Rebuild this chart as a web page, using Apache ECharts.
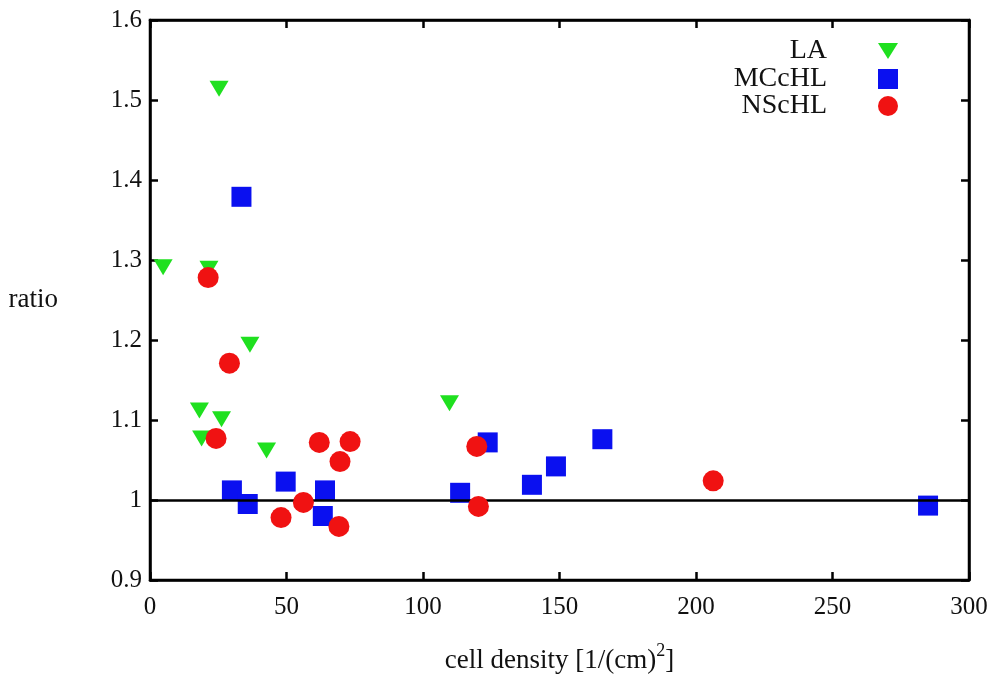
<!DOCTYPE html>
<html>
<head>
<meta charset="utf-8">
<script src="https://cdn.jsdelivr.net/npm/echarts@6/dist/echarts.min.js"></script>
<style>
  html, body { margin: 0; padding: 0; background: #fff; }
  #main { width: 1002px; height: 686px; }
</style>
</head>
<body>
<div id="main"></div>
<script>
  // data
  var laX = [4.8, 21.6, 25.3, 36.6, 18.1, 26.2, 18.9, 42.7, 109.7];
  var laY = [1.291, 1.289, 1.514, 1.194, 1.112, 1.101, 1.077, 1.062, 1.121];
  var mcX = [33.5, 30.0, 35.8, 49.7, 63.3, 64.1, 113.6, 123.7, 139.9, 148.7, 165.7, 285];
  var mcY = [1.379, 1.012, 0.995, 1.023, 0.980, 1.012, 1.009, 1.072, 1.019, 1.042, 1.076, 0.993];
  var nsX = [21.3, 29.1, 24.2, 48.0, 56.2, 62.0, 69.6, 73.3, 69.2, 119.7, 120.3, 206.3];
  var nsY = [1.278, 1.171, 1.077, 0.978, 0.997, 1.072, 1.048, 1.073, 0.967, 1.067, 0.992, 1.024];
  var xTicks = [0, 50, 100, 150, 200, 250, 300];
  var yTicks = [0.9, 1.0, 1.1, 1.2, 1.3, 1.4, 1.5, 1.6];

  function pairs(xs, ys) {
    var out = [];
    for (var i = 0; i < xs.length; i++) out.push([xs[i], ys[i]]);
    return out;
  }

  var font = 'Liberation Serif';
  var lineW = 2.5;
  var txt = '#111';

  function axisBase(extra) {
    var a = {
      axisLine: { show: true, onZero: false, lineStyle: { color: '#000', width: lineW } },
      axisTick: { show: true, inside: true, length: 8, lineStyle: { color: '#000', width: lineW } },
      splitLine: { show: false }
    };
    for (var k in extra) a[k] = extra[k];
    return a;
  }

  function legendItem(name, top, iconW, iconH, icon) {
    return {
      data: [{ name: name, icon: icon, itemStyle: { opacity: 1 } }],
      right: 99,
      top: top,
      align: 'right',
      itemWidth: iconW,
      itemHeight: iconH,
      selectedMode: false,
      textStyle: { fontFamily: font, fontSize: 28, color: txt, padding: [0, 46, 0, 0] }
    };
  }

  var option = {
    backgroundColor: '#fff',
    animation: false,
    grid: { left: 150, right: 33, top: 20, bottom: 106, show: true, borderColor: '#000', borderWidth: lineW },
    legend: [
      legendItem('LA', 32, 20, 16, 'path://M0,0 L20,0 L10,16 Z'),
      legendItem('MCcHL', 60, 20, 20, 'rect'),
      legendItem('NScHL', 87, 20, 20, 'circle')
    ],
    xAxis: [
      axisBase({
        type: 'value', min: 0, max: 300, interval: 50, position: 'bottom',
        axisLabel: {
          fontFamily: font, fontSize: 25, color: txt, margin: 15,
          formatter: function (v) { return xTicks.indexOf(v) >= 0 ? String(v) : ''; }
        },
        name: '{a|cell density [1/(cm)}{s|2}{a|]}',
        nameLocation: 'middle', nameGap: 62,
        nameTextStyle: {
          rich: {
            a: { fontFamily: font, fontSize: 27, color: txt, verticalAlign: 'bottom' },
            s: { fontFamily: font, fontSize: 18, color: txt, verticalAlign: 'top', padding: [0, 0, 14, 0] }
          }
        }
      }),
      axisBase({
        type: 'value', min: 0, max: 300, interval: 50, position: 'top',
        axisLabel: { show: false }
      })
    ],
    yAxis: [
      axisBase({
        type: 'value', min: 0.9, max: 1.6, interval: 0.1, position: 'left',
        axisLabel: {
          fontFamily: font, fontSize: 25, color: txt, margin: 8,
          formatter: function (v) {
            var r = Math.round(v * 10) / 10;
            for (var i = 0; i < yTicks.length; i++) {
              if (Math.abs(yTicks[i] - r) < 1e-9) return String(parseFloat(r.toFixed(1)));
            }
            return '';
          }
        },
        name: 'ratio', nameLocation: 'middle', nameRotate: 0, nameGap: 92,
        nameTextStyle: { fontFamily: font, fontSize: 27, color: txt }
      }),
      axisBase({
        type: 'value', min: 0.9, max: 1.6, interval: 0.1, position: 'right',
        axisLabel: { show: false }
      })
    ],
    series: [
      {
        name: 'LA', type: 'scatter', data: pairs(laX, laY),
        symbol: 'triangle', symbolRotate: 180, symbolSize: [19, 16],
        itemStyle: { color: '#1fe01f', opacity: 1 }, z: 3
      },
      {
        name: 'MCcHL', type: 'scatter', data: pairs(mcX, mcY),
        symbol: 'rect', symbolSize: 20,
        itemStyle: { color: '#0a10f0', opacity: 1 }, z: 4
      },
      {
        name: 'NScHL', type: 'scatter', data: pairs(nsX, nsY),
        symbol: 'circle', symbolSize: 21,
        itemStyle: { color: '#f01212', opacity: 1 }, z: 5,
        markLine: {
          silent: true, symbol: 'none', label: { show: false },
          lineStyle: { color: '#000', width: lineW, type: 'solid' },
          data: [{ yAxis: 1 }]
        }
      }
    ]
  };

  echarts.init(document.getElementById('main')).setOption(option);
</script>
</body>
</html>
